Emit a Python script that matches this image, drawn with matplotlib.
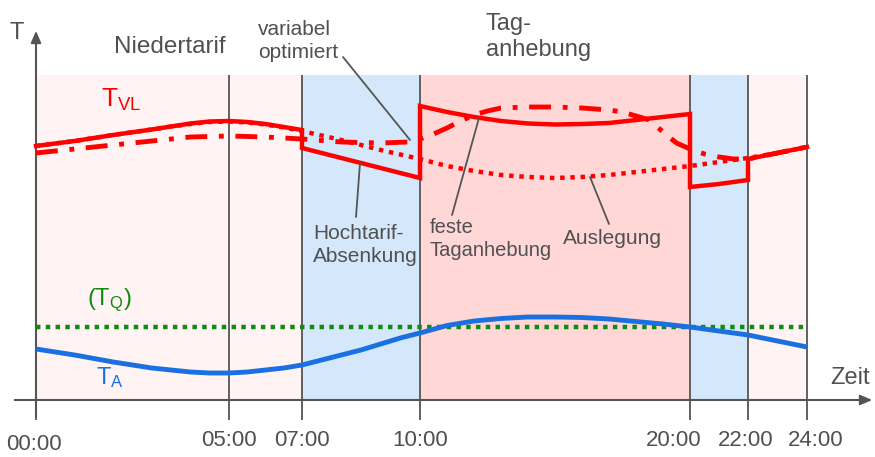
import numpy as np
import matplotlib
matplotlib.use("Agg")
import matplotlib.pyplot as plt
import matplotlib.transforms as mtransforms

plt.rcParams['font.family'] = ['Liberation Sans', 'DejaVu Sans']
plt.rcParams['mathtext.fontset'] = 'custom'
plt.rcParams['mathtext.rm'] = 'Liberation Sans'

# ---------------- data ----------------
tick_hours = [0, 5, 7, 10, 20, 22, 24]
tick_labels = ["00:00", "05:00", "07:00", "10:00", "20:00", "22:00", "24:00"]

# tariff periods (start, end, kind)
period_start = [0, 7, 10, 20, 22]
period_end = [7, 10, 20, 22, 24]
period_kind = ["nieder", "hoch", "tag", "hoch", "nieder"]

# T_VL solid (with steps at 7, 10, 20, 22)
solid_h = [0, 1, 2, 3, 3.5, 4, 4.5, 5, 5.5, 6, 6.5, 7, 7, 8, 9, 10, 10, 11, 12, 13, 14, 15, 16, 17, 18, 19, 20, 20, 21, 22, 22, 23, 24]
solid_T = [254, 259, 265, 270.5, 273.5, 276.5, 278.5, 279, 278, 276, 273, 270, 252, 242, 232, 222, 294, 288, 283, 279, 276.5, 275.5, 276, 277, 280, 283, 286, 213, 216, 220, 241, 247, 253]

# Auslegung (dotted)
ausl_h = [0, 1, 2, 3, 3.5, 4, 4.5, 5, 5.5, 6, 6.5, 7, 8, 9, 10, 11, 12, 13, 14, 15, 16, 17, 18, 19, 20, 21, 22, 23, 24]
ausl_T = [254, 259, 265, 270.5, 273.5, 276, 278, 278.5, 277.5, 275.5, 272.5, 269, 260, 250, 241, 234, 229, 225, 223, 222, 223, 225, 228, 231, 234, 238, 242, 247, 253]

# variabel optimiert (dash-dot)
var_h = [0, 1, 2, 3, 4, 5, 6, 7, 8, 9, 9.7, 10, 10.5, 11, 11.5, 12, 12.5, 13, 14, 15, 16, 17, 17.5, 18, 18.5, 19, 19.5, 20, 20.5, 21, 21.5, 22, 23, 24]
var_T = [247, 251, 255, 259, 263, 264, 263, 261, 258, 257, 258, 261, 266, 272, 279, 285, 289, 292, 293, 293, 292, 290, 288, 284, 280, 268, 257, 251, 246, 243, 241, 241, 247, 253]

# T_A (outside temperature)
ta_h = [0, 0.5, 1, 1.5, 2, 2.5, 3, 3.5, 4, 4.5, 5, 5.5, 6, 6.5, 7, 7.5, 8, 8.5, 9, 9.5, 10, 11, 12, 13, 14, 15, 16, 17, 18, 19, 20, 21, 22, 23, 24]
ta_T = [51, 48, 45, 41.5, 38, 35, 32, 30, 28, 27, 27, 28, 30, 32, 35, 40, 45, 50, 56, 62, 67, 74.5, 79, 81.5, 83, 83, 82.5, 81, 78.5, 76, 73, 69, 65, 59, 53]

# T_Q (constant)
tq_h = [0, 24]
tq_T = [73, 73]

# ---------------- figure ----------------
W, H = 875, 457
fig = plt.figure(figsize=(W / 100, H / 100), dpi=100)
ax = fig.add_axes([0, 0, 1, 1])
ax.set_axis_off()

# non-linear time axis (piecewise linear) via library FuncScale
kn_h = np.array([-2, 0, 5, 7, 10, 20, 22, 24, 28])
kn_p = np.array([36 - 2 * 38.6, 36, 229, 302, 420, 690, 748, 807, 807 + 4 * 29.5])

def fwd(h):
    return np.interp(h, kn_h, kn_p)

def inv(p):
    return np.interp(p, kn_p, kn_h)

ax.set_xscale('function', functions=(fwd, inv))
ax.set_xlim(inv(0), inv(W))
ax.set_ylim(-(H - 400), 400)

def P(px, py):
    return (px / W, 1 - py / H)

TXT = "#505050"
GRID = "#555555"

# backgrounds
colors = {"nieder": "#fff3f3", "hoch": "#d5e8fb", "tag": "#ffd7d7"}
for s, e, k in zip(period_start, period_end, period_kind):
    ax.axvspan(s, e, ymin=1 - 400 / H, ymax=1 - 75 / H, color=colors[k], lw=0, zorder=0)

# vertical lines
ax.vlines(tick_hours, -20, 325, colors=GRID, lw=1.3, zorder=1)

# axes with arrows
ax.annotate('', xy=P(36, 28), xytext=P(36, 420), xycoords='axes fraction',
            arrowprops=dict(arrowstyle='-|>,head_length=0.7,head_width=0.3', color=GRID, lw=1.5), zorder=2)
ax.annotate('', xy=P(875, 400), xytext=P(12, 400), xycoords='axes fraction',
            arrowprops=dict(arrowstyle='-|>,head_length=0.7,head_width=0.3', color=GRID, lw=1.5), zorder=2)

# curves
ax.plot(tq_h, tq_T, color="#108a10", lw=3.2, linestyle=(0, (1, 1.2)), zorder=3)
ax.plot(ta_h, ta_T, color="#1a70e0", lw=3.5, zorder=3, solid_capstyle='butt')
ax.plot(ausl_h, ausl_T, color="#ff0000", lw=3.2, linestyle=(0, (1, 1.3)), zorder=3)
ax.plot(var_h, var_T, color="#ff0000", lw=3.5, linestyle=(0, (4.5, 2.4, 1.0, 2.4)), zorder=3)
ax.plot(solid_h, solid_T, color="#ff0000", lw=3.2, zorder=4, solid_joinstyle='miter')

# tick labels (small horizontal nudges as in the reference)
label_dx = [-2, 0, 0, 0, -16, -2, 9]
label_y = [445, 440, 440, 440, 440, 440, 440]
for h, lab, dx, yy in zip(tick_hours, tick_labels, label_dx, label_y):
    tr = mtransforms.blended_transform_factory(ax.transData, ax.transAxes) + \
        mtransforms.ScaledTranslation(dx / 100, 0, fig.dpi_scale_trans)
    ax.text(h, 1 - yy / H, lab, transform=tr, ha='center', va='center', fontsize=16, color=TXT)

def t(px, py, s, **kw):
    kw.setdefault('color', TXT)
    kw.setdefault('ha', 'left')
    kw.setdefault('va', 'center')
    ax.text(*P(px, py), s, transform=ax.transAxes, **kw)

t(17, 33, "T", fontsize=17, ha='center')
t(830, 378, "Zeit", fontsize=17)
t(170, 47, "Niedertarif", fontsize=17.5, ha='center')
t(486, 37, "Tag-\nanhebung", fontsize=17, linespacing=1.2)
t(258, 41, "variabel\noptimiert", fontsize=15, linespacing=1.25)
t(313, 245, "Hochtarif-\nAbsenkung", fontsize=15, linespacing=1.3)
t(430, 239, "feste\nTaganhebung", fontsize=14.5, linespacing=1.3)
t(563, 238, "Auslegung", fontsize=15)
t(101, 100, r"$\mathregular{T_{VL}}$", fontsize=19, color="#ff0000")
t(87, 300, r"$\mathregular{(T_{Q})}$", fontsize=17, color="#108a10")
t(96, 378, r"$\mathregular{T_{A}}$", fontsize=17, color="#1a70e0")

# leader lines
def leader(p0, p1):
    ax.annotate('', xy=P(*p1), xytext=P(*p0), xycoords='axes fraction',
                arrowprops=dict(arrowstyle='-', color=GRID, lw=1.3, shrinkA=0, shrinkB=0), zorder=5)

leader((343, 57), (410, 140))
leader((356, 217), (360, 163))
leader((452, 215), (479, 118))
leader((609, 224), (590, 177))

fig.savefig("out.png", dpi=100)
